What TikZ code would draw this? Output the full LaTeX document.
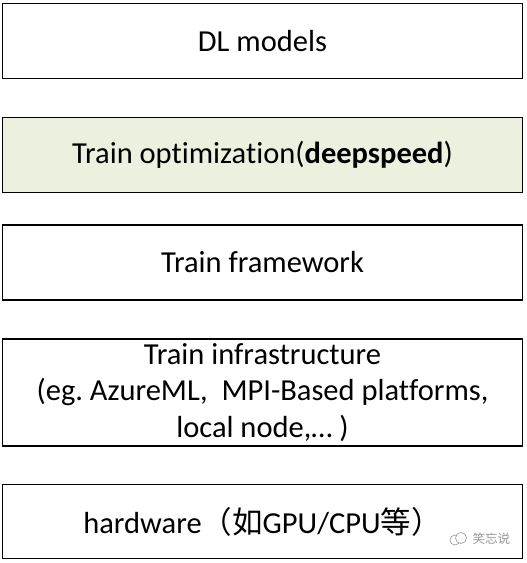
\documentclass[tikz,border=0pt]{standalone}
\usepackage{fontspec}
\setmainfont{Carlito}[Ligatures=NoCommon]
\newfontfamily\cjk{Noto Sans CJK SC}
\definecolor{optgreen}{RGB}{235,241,222}
\definecolor{wmgray}{RGB}{150,150,150}
\frenchspacing
\begin{document}
\begin{tikzpicture}[x=1pt, y=-1pt]

	\tikzstyle{capa}=[draw, line width=1.4pt, minimum width=520pt, minimum height=75pt, inner sep=0pt, align=center, font=\fontsize{30.5}{36.6}\selectfont]
	\tikzstyle{opt}=[fill=optgreen]

	\useasboundingbox (0, 0) rectangle (527, 563);

	\coordinate (c_1) at (262.5, 41); % MODELOS
	\coordinate (c_2) at (262.5, 155); % OPTIMIZACION
	\coordinate (c_3) at (262.5, 262.5); % FRAMEWORK
	\coordinate (c_4) at (262.5, 392.5); % INFRAESTRUCTURA
	\coordinate (c_5) at (262.5, 521.5); % HARDWARE
	\coordinate (wm) at (469, 539); % MARCA DE AGUA

	\node[capa] (c_1) at (c_1) {DL models};
	\node[capa, opt] (c_2) at (c_2) {Train optimization(\textbf{deepspeed})};
	\node[capa] (c_3) at (c_3) {Train framework};
	\node[capa, minimum height=107pt] (c_4) at (c_4) {Train infrastructure\\(eg. AzureML,\ \ MPI-Based platforms,\\local node,\dots\ )};
	\node[capa, minimum height=74pt] (c_5) at (c_5) {hardware{\cjk （如}GPU/CPU{\cjk 等）}};

	%%%%%%%% MARCA DE AGUA %%%%%%%%
	\node[text=wmgray, font=\cjk\fontsize{12.5}{12.5}\selectfont, anchor=west] (wm) at (wm) {笑忘说};
	\draw[wmgray, line width=0.6pt] ([xshift=-14pt, yshift=-1pt]wm.west) circle (5pt);
	\draw[wmgray, line width=0.6pt, fill=white] ([xshift=-8pt, yshift=1pt]wm.west) circle (5.5pt);
	%%%%%%%%%%%%%%%%%%%%%%%%%%%%%%
\end{tikzpicture}
\end{document}
